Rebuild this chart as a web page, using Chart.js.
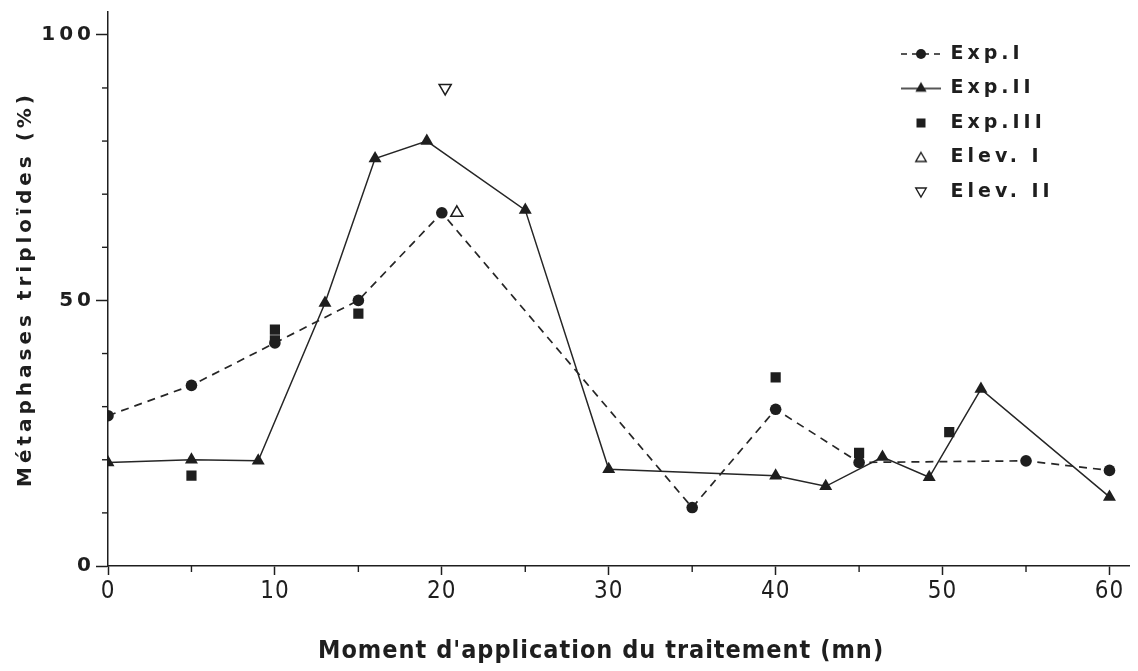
<!DOCTYPE html>
<html>
<head>
<meta charset="utf-8">
<script src="https://cdn.jsdelivr.net/npm/chart.js@4.4.1/dist/chart.umd.min.js"></script>
<style>
  html, body { margin: 0; padding: 0; background: #fff; }
  #wrap { width: 1138px; height: 671px; }
</style>
</head>
<body>
<div id="wrap"><canvas id="triploChart"></canvas></div>
<script>
// values (x = minutes, y = % triploid metaphases)
const expIx = [0, 5, 10, 15, 20, 35, 40, 45, 55, 60];
const expIy = [28.3, 34, 42, 50, 66.5, 11, 29.5, 19.5, 19.8, 18];
const expIIx = [0, 5, 9, 13, 16, 19.1, 25, 30, 40, 43, 46.4, 49.2, 52.3, 60];
const expIIy = [19.5, 20, 19.8, 49.5, 76.7, 80, 67, 18.2, 17, 15, 20.5, 16.7, 33.3, 13];
const expIIIx = [5, 10, 10, 15, 40, 45, 50.4];
const expIIIy = [17, 44.5, 42.5, 47.5, 35.5, 21.3, 25.2];
const elevIx = [20.9];
const elevIy = [66.5];
const elevIIx = [20.2];
const elevIIy = [90];

const seriesLabels = ['Exp.I', 'Exp.II', 'Exp.III', 'Elev. I', 'Elev. II'];
const xTickVals = [0, 10, 20, 30, 40, 50, 60];
const xMinorVals = [5, 15, 25, 35, 45, 55];
const yTickVals = [0, 50, 100];
const yMinorVals = [10, 20, 30, 40, 60, 70, 80, 90];
const xTitle = "Moment d'application du traitement (mn)";
const yTitle = 'Métaphases triploïdes (%)';

const ink = '#1e1e1e';
const wide = "'DejaVu Sans', sans-serif";
const narrow = "'Liberation Sans Narrow', 'DejaVu Sans Condensed', sans-serif";

const pts = (xs, ys) => xs.map((x, i) => ({ x, y: ys[i] }));

/* small legend symbols (line + marker like the printed key) */
function icon(draw) {
    const c = document.createElement('canvas');
    c.width = 42; c.height = 16;
    const g = c.getContext('2d');
    g.strokeStyle = ink; g.fillStyle = ink; g.lineWidth = 1.4;
    draw(g);
    return c;
}
function tri(g, cx, cy, r, down, fill) {
    const s = down ? -1 : 1;
    g.beginPath();
    g.moveTo(cx, cy - s * r);
    g.lineTo(cx + r * 0.87, cy + s * r * 0.5);
    g.lineTo(cx - r * 0.87, cy + s * r * 0.5);
    g.closePath();
    if (fill) { g.fill(); } else { g.fillStyle = '#fff'; g.fill(); g.stroke(); }
}
const legendIcons = [
    icon(g => { g.setLineDash([6, 5]); g.beginPath(); g.moveTo(1, 8); g.lineTo(41, 8); g.stroke();
                g.setLineDash([]); g.beginPath(); g.arc(21, 8, 5, 0, Math.PI * 2); g.fill(); }),
    icon(g => { g.beginPath(); g.moveTo(1, 8); g.lineTo(41, 8); g.stroke(); tri(g, 21, 8, 6.5, false, true); }),
    icon(g => { g.fillRect(16.5, 3.5, 9, 9); }),
    icon(g => tri(g, 21, 9, 6, false, false)),
    icon(g => tri(g, 21, 7, 6, true, false))
];

/* letter spacing: wide bold lettering for y axis + key, tighter for x axis */
const spacing = {
    id: 'spacing',
    beforeDraw(chart) { chart.ctx.letterSpacing = '4px'; },
    afterDatasetsDraw(chart) { chart.ctx.letterSpacing = '1px'; },
    afterDraw(chart) { chart.ctx.letterSpacing = '0px'; }
};

/* put the key in the upper right of the plot */
const keyPlace = {
    id: 'keyPlace',
    afterLayout(chart) {
        const lg = chart.legend;
        lg.left = 885.5; lg.top = 29;
        lg.bottom = lg.top + 400; lg.right = lg.left + 240;
        lg.width = 240; lg.height = 400;
    }
};

/* unlabelled short ticks */
const minorTicks = {
    id: 'minorTicks',
    afterDraw(chart) {
        const { ctx, scales: { x, y } } = chart;
        ctx.save();
        ctx.strokeStyle = ink;
        ctx.lineWidth = 1.4;
        xMinorVals.forEach(v => {
            const px = x.getPixelForValue(v);
            ctx.beginPath(); ctx.moveTo(px, x.top); ctx.lineTo(px, x.top + 6); ctx.stroke();
        });
        yMinorVals.forEach(v => {
            const py = y.getPixelForValue(v);
            ctx.beginPath(); ctx.moveTo(y.right, py); ctx.lineTo(y.right - 6, py); ctx.stroke();
        });
        ctx.restore();
    }
};

const chart = new Chart(document.getElementById('triploChart'), {
    type: 'scatter',
    data: {
        datasets: [
            {
                label: seriesLabels[0],
                data: pts(expIx, expIy),
                showLine: true,
                borderColor: '#262626',
                borderWidth: 1.7,
                borderDash: [8, 6],
                backgroundColor: ink,
                pointBackgroundColor: ink,
                pointBorderColor: ink,
                pointStyle: 'circle',
                pointRadius: 5.8,
                pointBorderWidth: 0,
                order: 2
            },
            {
                label: seriesLabels[1],
                data: pts(expIIx, expIIy),
                showLine: true,
                borderColor: '#262626',
                borderWidth: 1.5,
                backgroundColor: ink,
                pointBackgroundColor: ink,
                pointBorderColor: ink,
                pointStyle: 'triangle',
                pointRadius: 7.5,
                pointBorderWidth: 0,
                order: 1
            },
            {
                label: seriesLabels[2],
                data: pts(expIIIx, expIIIy),
                showLine: false,
                backgroundColor: ink,
                pointBackgroundColor: ink,
                pointBorderColor: ink,
                pointStyle: 'rect',
                pointRadius: 7.2,
                pointBorderWidth: 0,
                order: 0
            },
            {
                label: seriesLabels[3],
                data: pts(elevIx, elevIy),
                showLine: false,
                pointBackgroundColor: '#fff',
                pointBorderColor: ink,
                pointStyle: 'triangle',
                pointRadius: 7,
                pointBorderWidth: 1.5,
                order: 3
            },
            {
                label: seriesLabels[4],
                data: pts(elevIIx, elevIIy),
                showLine: false,
                pointBackgroundColor: '#fff',
                pointBorderColor: ink,
                pointStyle: 'triangle',
                pointRotation: 180,
                pointRadius: 7,
                pointBorderWidth: 1.5,
                order: 4
            }
        ]
    },
    options: {
        responsive: true,
        maintainAspectRatio: false,
        animation: false,
        events: [],
        layout: { padding: { left: 0, right: 7, top: 12, bottom: 0 } },
        plugins: {
            tooltip: { enabled: false },
            legend: {
                position: 'chartArea',
                fullSize: false,
                align: 'start',
                labels: {
                    usePointStyle: true,
                    pointStyleWidth: 40,
                    boxHeight: 19,
                    padding: 15.5,
                    color: ink,
                    font: { family: wide, size: 19, weight: 'bold' },
                    generateLabels(chart) {
                        return chart.data.datasets.map((ds, i) => ({
                            text: ds.label,
                            pointStyle: legendIcons[i],
                            datasetIndex: i,
                            fontColor: ink,
                            fillStyle: ink,
                            strokeStyle: ink,
                            lineWidth: 0,
                            hidden: false
                        }));
                    }
                }
            }
        },
        scales: {
            x: {
                type: 'linear',
                min: 0,
                max: 61.2,
                afterBuildTicks: s => { s.ticks = xTickVals.map(v => ({ value: v })); },
                afterFit: s => { s.height = 105; s.paddingLeft = 0; s.paddingRight = 0; },
                grid: { drawOnChartArea: false, tickLength: 9, tickWidth: 1.5, tickColor: ink, z: 1 },
                border: { color: ink, width: 1.5, z: 1 },
                ticks: {
                    z: 1, autoSkip: false, maxRotation: 0, padding: 2, color: ink,
                    font: { family: narrow, size: 24 }
                },
                title: {
                    display: true, text: xTitle + '\u00a0\u00a0\u00a0\u00a0', color: ink,
                    font: { family: narrow, size: 25, weight: 'bold' },
                    padding: { top: 0, bottom: 5 }
                }
            },
            y: {
                type: 'linear',
                min: 0,
                max: 104.3,
                afterBuildTicks: s => { s.ticks = yTickVals.map(v => ({ value: v })); },
                afterFit: s => { s.width = 108; s.paddingTop = 0; s.paddingBottom = 0; },
                grid: { drawOnChartArea: false, tickLength: 12, tickWidth: 1.5, tickColor: ink },
                border: { color: ink, width: 1.5 },
                ticks: {
                    padding: 1, color: ink,
                    font: { family: wide, size: 20, weight: 'bold' }
                },
                title: {
                    display: true, text: yTitle, color: ink,
                    font: { family: wide, size: 20, weight: 'bold' },
                    padding: { top: 14, bottom: 0 }
                }
            }
        }
    },
    plugins: [spacing, keyPlace, minorTicks]
});
</script>
</body>
</html>
